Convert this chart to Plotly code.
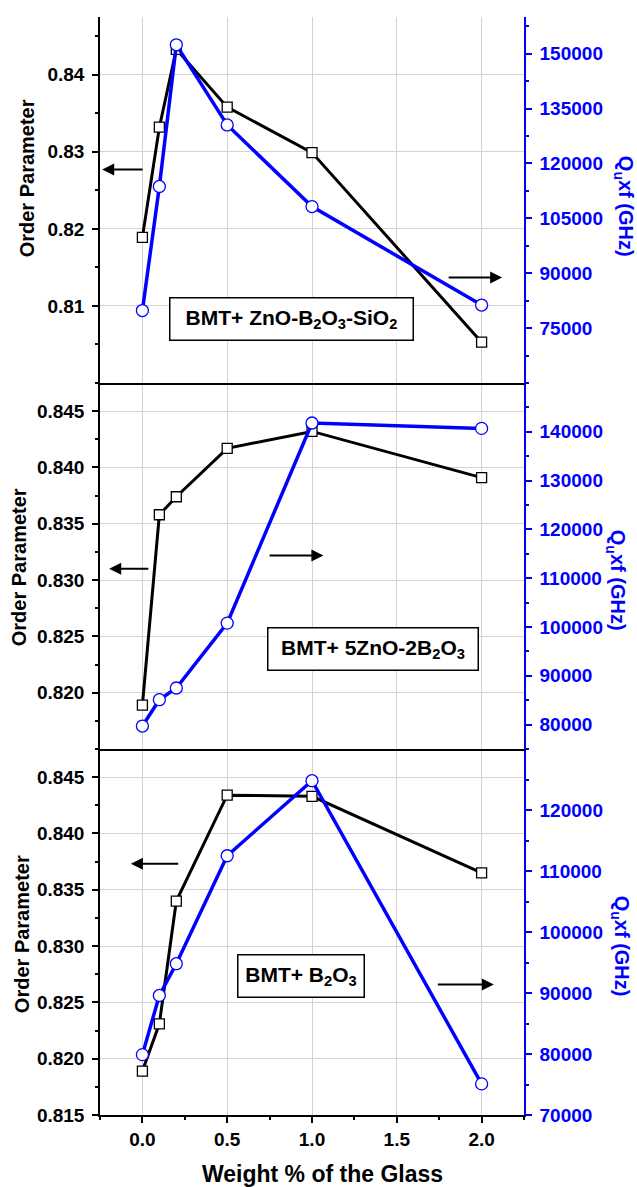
import plotly.graph_objects as go

# Glass additions (weight %)
weight_pct = [0.0, 0.1, 0.2, 0.5, 1.0, 2.0]

# BMT + ZnO-B2O3-SiO2
order_zbs = [0.8189, 0.8332, 0.8433, 0.8358, 0.8299, 0.8053]
qf_zbs = [79800, 113700, 152400, 130500, 108200, 81300]

# BMT + 5ZnO-2B2O3
order_zb = [0.8189, 0.8358, 0.8374, 0.8417, 0.8432, 0.8391]
qf_zb = [79700, 85100, 87500, 100800, 141800, 140700]

# BMT + B2O3
order_b = [0.8189, 0.8231, 0.8340, 0.8434, 0.8433, 0.8365]
qf_b = [79900, 89600, 94800, 112500, 124800, 75100]

FONT = "Arial, 'Liberation Sans', sans-serif"
BLUE = "#0000ff"
GRID = "#d3d3d3"

W, H = 637, 1187
ML, MR, MT, MB = 100, 112.5, 16.7, 72

fig = go.Figure()

panels = [
    # (x axis, left y, right y, order data, qf data)
    ("x", "y", "y2", order_b, qf_b),
    ("x2", "y3", "y4", order_zb, qf_zb),
    ("x3", "y5", "y6", order_zbs, qf_zbs),
]

for xa, yl, yr, op, qf in panels:
    fig.add_trace(go.Scatter(
        x=weight_pct, y=op, xaxis=xa, yaxis=yl, mode="lines+markers",
        line=dict(color="black", width=3),
        marker=dict(symbol="square", size=10, color="white",
                    line=dict(color="black", width=1.3)),
        showlegend=False, cliponaxis=False))
    fig.add_trace(go.Scatter(
        x=weight_pct, y=qf, xaxis=xa, yaxis=yr, mode="lines+markers",
        line=dict(color=BLUE, width=3.5),
        marker=dict(symbol="circle", size=12, color="white",
                    line=dict(color=BLUE, width=1.3)),
        showlegend=False, cliponaxis=False))

tick_font = dict(family=FONT, size=19, color="black", weight="bold")
tick_font_blue = dict(family=FONT, size=19, color=BLUE, weight="bold")

domains = [[0, 1 / 3], [1 / 3, 2 / 3], [2 / 3, 1]]

x_common = dict(range=[-0.25, 2.25], showgrid=True, gridcolor=GRID, gridwidth=1,
                zeroline=False, showline=True, linecolor="black", linewidth=1.5,
                mirror=False, tickmode="linear", tick0=0, dtick=0.5,
                tickformat=".1f", domain=[0, 1])

layout = dict(
    width=W, height=H,
    margin=dict(l=ML, r=MR, t=MT, b=MB),
    paper_bgcolor="white", plot_bgcolor="white",
    font=dict(family=FONT),
)

# bottom x axes of each panel
layout["xaxis"] = dict(x_common, anchor="y", ticks="outside", ticklen=6,
                       tickwidth=1.5, tickcolor="black", tickfont=tick_font,
                       minor=dict(ticks="outside", ticklen=3, tickwidth=1.5,
                                  tickcolor="black", dtick=0.25, tick0=0,
                                  showgrid=False))
layout["xaxis2"] = dict(x_common, anchor="y3", ticks="", showticklabels=False)
layout["xaxis3"] = dict(x_common, anchor="y5", ticks="", showticklabels=False)

# inward ticks along the top edge of each panel (frame line on the top panel)
for name, anchor in (("xaxis4", "y"), ("xaxis5", "y3"), ("xaxis6", "y5")):
    layout[name] = dict(range=[-0.25, 2.25], overlaying="x", anchor=anchor,
                        side="top", showgrid=False, zeroline=False,
                        showline=(name == "xaxis6"), linecolor="black",
                        linewidth=1.5, showticklabels=False,
                        tickmode="linear", tick0=0, dtick=0.5,
                        ticks="inside", ticklen=6, tickwidth=1.5,
                        tickcolor="black",
                        minor=dict(ticks="inside", ticklen=3, tickwidth=1.5,
                                   tickcolor="black", dtick=0.25, tick0=0))

# left (order parameter) axes
left_specs = [
    ("yaxis", "x", domains[0], [0.815, 0.8475],
     [0.815, 0.820, 0.825, 0.830, 0.835, 0.840, 0.845], ".3f", 0.0025, 0.815),
    ("yaxis3", "x2", domains[1], [0.815, 0.8475],
     [0.820, 0.825, 0.830, 0.835, 0.840, 0.845], ".3f", 0.0025, 0.815),
    ("yaxis5", "x3", domains[2], [0.80, 0.8475],
     [0.81, 0.82, 0.83, 0.84], ".2f", 0.005, 0.80),
]
for name, anchor, dom, rng, tv, fmt, mdt, m0 in left_specs:
    layout[name] = dict(
        domain=dom, anchor=anchor, range=rng, tickmode="array",
        tickvals=tv, ticktext=[format(v, fmt) for v in tv],
        showgrid=True, gridcolor=GRID, gridwidth=1, zeroline=False,
        showline=True, linecolor="black", linewidth=1.5,
        ticks="outside", ticklen=6, tickwidth=1.5, tickcolor="black",
        tickfont=tick_font, ticklabelstandoff=4,
        minor=dict(tickmode="linear", tick0=m0, dtick=mdt, ticks="outside",
                   ticklen=3, tickwidth=1.5, tickcolor="black",
                   showgrid=False))

# right (Qu x f) axes
right_specs = [
    ("yaxis2", "y", "x", [70000, 130000],
     [70000, 80000, 90000, 100000, 110000, 120000], 5000, 70000),
    ("yaxis4", "y3", "x2", [75000, 150000],
     [80000, 90000, 100000, 110000, 120000, 130000, 140000], 5000, 75000),
    ("yaxis6", "y5", "x3", [60000, 160000],
     [75000, 90000, 105000, 120000, 135000, 150000], 7500, 60000),
]
for name, over, anchor, rng, tv, mdt, m0 in right_specs:
    layout[name] = dict(
        overlaying=over, anchor=anchor, side="right", range=rng,
        tickmode="array", tickvals=tv, ticktext=[str(v) for v in tv],
        showgrid=False, zeroline=False, showline=True, linecolor=BLUE,
        linewidth=1.5, ticks="outside", ticklen=6, tickwidth=1.5,
        tickcolor=BLUE, tickfont=tick_font_blue, ticklabelstandoff=4,
        minor=dict(tickmode="linear", tick0=m0, dtick=mdt, ticks="outside",
                   ticklen=3, tickwidth=1.5, tickcolor=BLUE, showgrid=False))

fig.update_layout(**layout)

plot_h = H - MT - MB
plot_w = W - ML - MR


def px_x(px):
    return (px - ML) / plot_w


def px_y(py):
    return 1 - (py - MT) / plot_h


annotations = []

# axis titles
for yc, xc in ((178, 27), (567, 19), (934, 22)):
    annotations.append(dict(
        text="<b>Order Parameter</b>", xref="paper", yref="paper",
        x=px_x(xc), y=px_y(yc),
        xanchor="center", yanchor="middle", textangle=-90, showarrow=False,
        font=dict(family=FONT, size=20, color="black")))
for yc, xc in ((206, 625), (580, 617), (946, 622)):
    annotations.append(dict(
        text="<b>Q<sub>u</sub>xf (GHz)</b>", xref="paper", yref="paper",
        x=px_x(xc), y=px_y(yc), xanchor="center", yanchor="middle",
        textangle=90, showarrow=False,
        font=dict(family=FONT, size=20, color=BLUE)))
annotations.append(dict(
    text="<b>Weight % of the Glass</b>", xref="paper", yref="paper",
    x=px_x(323), y=px_y(1174), xanchor="center", yanchor="middle",
    showarrow=False, font=dict(family=FONT, size=23, color="black")))

# sample labels
boxes = [
    ("x3", "y5", 0.882, 0.8083, 242, 41,
     "<b>BMT+ ZnO-B<sub>2</sub>O<sub>3</sub>-SiO<sub>2</sub></b>"),
    ("x2", "y3", 1.359, 0.8239, 209, 41,
     "<b>BMT+ 5ZnO-2B<sub>2</sub>O<sub>3</sub></b>"),
    ("x", "y", 0.938, 0.8273, 125, 41,
     "<b>BMT+ B<sub>2</sub>O<sub>3</sub></b>"),
]
for xr, yr, xc, yc, bw, bh, txt in boxes:
    annotations.append(dict(
        text=txt, xref=xr, yref=yr, x=xc, y=yc, xanchor="center",
        yanchor="middle", width=bw, height=bh, align="center", valign="middle",
        showarrow=False, bgcolor="white", bordercolor="black", borderwidth=1.5,
        borderpad=0, font=dict(family=FONT, size=21, color="black")))

# arrows pointing to the axis each curve belongs to
arrows = [
    ("x3", "y5", -0.237, 0.8277, 0.010, 0.8277),
    ("x3", "y6", 2.121, 88800, 1.797, 88800),
    ("x2", "y3", -0.196, 0.8310, 0.044, 0.8310),
    ("x2", "y4", 1.067, 114650, 0.741, 114650),
    ("x", "y", -0.068, 0.8373, 0.220, 0.8373),
    ("x", "y2", 2.072, 91410, 1.733, 91410),
]
for xr, yr, hx, hy, tx, ty in arrows:
    annotations.append(dict(
        text="", xref=xr, yref=yr, x=hx, y=hy, axref=xr, ayref=yr,
        ax=tx, ay=ty, showarrow=True, arrowhead=2, arrowsize=1.2,
        arrowwidth=2, arrowcolor="black"))

fig.update_layout(annotations=annotations)

fig.write_html("out.html")
